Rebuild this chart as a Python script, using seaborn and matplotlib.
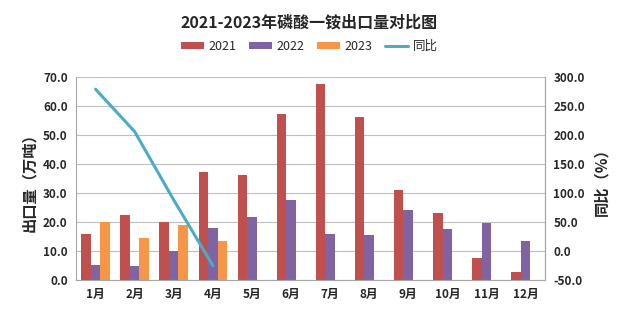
import numpy as np
import pandas as pd
import matplotlib
matplotlib.use("Agg")
import matplotlib.pyplot as plt
import seaborn as sns
from matplotlib.lines import Line2D
from matplotlib.patches import Patch

months = ["1月", "2月", "3月", "4月", "5月", "6月", "7月", "8月", "9月", "10月", "11月", "12月"]
v2021 = [16.0, 22.5, 20.1, 37.3, 36.3, 57.3, 67.6, 56.3, 31.1, 23.2, 7.7, 2.9]
v2022 = [5.3, 4.9, 10.1, 18.0, 21.8, 27.7, 16.0, 15.6, 24.2, 17.7, 19.8, 13.6]
v2023 = [20.1, 14.6, 18.8, 13.5, np.nan, np.nan, np.nan, np.nan, np.nan, np.nan, np.nan, np.nan]
yoy = [279.0, 206.0, 88.0, -25.0]
series_names = ["2021", "2022", "2023"]
yoy_name = "同比"
title = "2021-2023年磷酸一铵出口量对比图"
ylabel_left = "出口量（万吨）"
ylabel_right = "同比（%）"

colors = ["#C0504D", "#8064A2", "#F79646"]
line_color = "#4BACC6"

sns.set_theme(style="white")
plt.rcParams["font.family"] = ["Noto Sans CJK SC", "DejaVu Sans"]

df = pd.DataFrame({
    "month": months * 3,
    "value": v2021 + v2022 + v2023,
    "year": sum([[s] * len(months) for s in series_names], []),
})

fig = plt.figure(figsize=(6.19, 3.21), dpi=100)
ax = fig.add_axes([0.1228, 0.1277, 0.7577, 0.6323])

sns.barplot(data=df, x="month", y="value", hue="year", order=months,
            hue_order=series_names, palette=colors, width=0.73,
            saturation=1, legend=False, ax=ax, errorbar=None, linewidth=0)

ax.set_ylim(0, 70)
ax.set_yticks(np.arange(0, 70.1, 10))
ax.set_yticklabels([f"{v:.1f}" for v in np.arange(0, 70.1, 10)])
ax.set_xlim(-0.5, len(months) - 0.5)
ax.yaxis.grid(True, color="#BFBFBF", linewidth=0.8)
ax.set_axisbelow(True)
ax.set_xlabel("")
ax.set_ylabel(ylabel_left, fontsize=11, fontweight="bold", labelpad=4)
ax.spines["top"].set_visible(False)
for s in ["left", "bottom", "right"]:
    ax.spines[s].set_color("#A6A6A6")
    ax.spines[s].set_linewidth(0.8)
ax.tick_params(axis="both", length=0, labelsize=8.5, pad=6)
for lab in ax.get_xticklabels() + ax.get_yticklabels():
    lab.set_fontweight("bold")

ax2 = ax.twinx()
sns.lineplot(x=np.arange(len(yoy)), y=yoy, color=line_color, linewidth=2.2,
             ax=ax2, legend=False)
ax2.set_ylim(-50, 300)
ax2.set_yticks(np.arange(-50, 300.1, 50))
ax2.set_yticklabels([f"{v:.1f}" for v in np.arange(-50, 300.1, 50)])
ax2.set_ylabel(ylabel_right, fontsize=11, fontweight="bold", rotation=90, labelpad=6)
ax2.tick_params(axis="y", length=0, labelsize=8.5, pad=6)
for lab in ax2.get_yticklabels():
    lab.set_fontweight("bold")
for s in ["top", "left", "bottom"]:
    ax2.spines[s].set_visible(False)
ax2.spines["right"].set_color("#A6A6A6")
ax2.spines["right"].set_linewidth(0.8)
ax2.grid(False)

fig.text(0.5, 0.93, title, ha="center", va="center", fontsize=11.5, fontweight="bold")

handles = [Patch(facecolor=c, edgecolor="none") for c in colors]
handles.append(Line2D([0], [0], color=line_color, linewidth=2.2))
fig.legend(handles, series_names + [yoy_name], loc="center", bbox_to_anchor=(0.5, 0.855),
           ncol=4, frameon=False, fontsize=9, handlelength=1.8, handleheight=0.5,
           columnspacing=1.0, handletextpad=0.4)

fig.savefig("out.png", dpi=100)
